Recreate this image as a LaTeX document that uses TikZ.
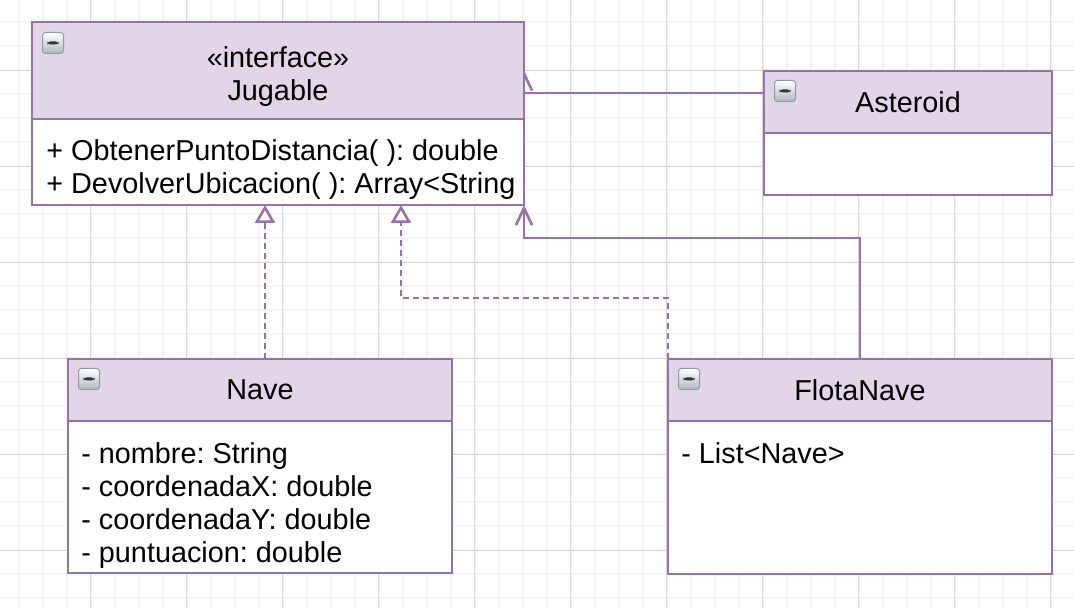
\documentclass[tikz,border=0pt]{standalone}
\usepackage{fontspec}
\setmainfont{Liberation Sans}
\usetikzlibrary{arrows.meta,positioning,backgrounds}
\definecolor{umlfill}{HTML}{E1D5E7}
\definecolor{umlline}{HTML}{9673A6}
\definecolor{gridminor}{HTML}{F4F4F4}
\definecolor{gridmajor}{HTML}{D6D6D6}
\definecolor{foldline}{HTML}{8E9AA4}
\definecolor{foldbot}{HTML}{AEB8C0}
\pgfdeclarelayer{edges}
\pgfsetlayers{background,edges,main}
\frenchspacing

\begin{document}
\begin{tikzpicture}[
 x=0.5pt, y=-0.5pt, font=\fontsize{14.4}{16.5}\selectfont,
 box/.style={draw=umlline, line width=1.4pt, inner sep=0pt, outer sep=0pt},
 head/.style={box, fill=umlfill, align=center}, body/.style={box, fill=white},
 attr/.style={align=left, inner sep=0pt, anchor=north west},
 fold/.style={draw=foldline, line width=0.5pt, rounded corners=1.5pt, top color=white, bottom color=foldbot,
   minimum size=10.5pt, inner sep=0pt, anchor=north west,
   path picture={\fill[black!80] ([xshift=-2.8pt,yshift=-0.75pt]path picture bounding box.center)
     rectangle ([xshift=2.8pt,yshift=0.75pt]path picture bounding box.center);}},
 assoc/.style={draw=umlline, line width=1.3pt, -{Straight Barb[length=8.5pt,width=8pt]}},
 real/.style={assoc, dash pattern=on 3pt off 2pt, -{Triangle[length=9pt,width=10pt,fill=white]}}]
\useasboundingbox (0,0) rectangle (1074,608);
% grid paper
\begin{pgfonlayer}{background}
\fill[white] (0,0) rectangle (1074,608);
\foreach \gx in {18.7,42.7,...,1060} \draw[gridminor, line width=1pt] (\gx,0) -- (\gx,608);
\foreach \gy in {22.3,46.3,...,604} \draw[gridminor, line width=1pt] (0,\gy) -- (1074,\gy);
\foreach \gx in {90.7,186.7,...,1060} \draw[gridmajor, line width=0.5pt] (\gx,0) -- (\gx,608);
\foreach \gy in {70.3,166.3,...,604} \draw[gridmajor, line width=0.5pt] (0,\gy) -- (1074,\gy);
\end{pgfonlayer}
% classes
\node[head, minimum width=246pt, minimum height=48.5pt] (jugH) at (278,70.5) {\rule{0pt}{16pt}«interface»\\Jugable};
\node[body, minimum width=246pt, minimum height=43pt, below=0pt of jugH] (jugB) {};
\node[attr] (jugA) at ([xshift=7pt,yshift=-10.3pt]jugB.north west) {+ ObtenerPuntoDistancia( ): double\\+ DevolverUbicacion( ): Array<String};
\node[fold] (jugF) at ([xshift=5pt,yshift=-5pt]jugH.north west) {};
\node[head, minimum width=144pt, minimum height=31pt] (astH) at (908,102) {Asteroid};
\node[body, minimum width=144pt, minimum height=31pt, below=0pt of astH] (astB) {};
\node[fold] (astF) at ([xshift=5pt,yshift=-4.5pt]astH.north west) {};
\node[head, minimum width=192pt, minimum height=31pt] (naveH) at (260,390) {Nave};
\node[body, minimum width=192pt, minimum height=76pt, below=0pt of naveH] (naveB) {};
\node[attr] (naveA) at ([xshift=6.5pt,yshift=-10.7pt]naveB.north west) {- nombre: String\\- coordenadaX: double\\- coordenadaY: double\\- puntuacion: double};
\node[fold] (naveF) at ([xshift=5pt,yshift=-4.5pt]naveH.north west) {};
\node[head, minimum width=192pt, minimum height=31pt] (flotaH) at (860,390) {FlotaNave};
\node[body, minimum width=192pt, minimum height=76.5pt, below=0pt of flotaH] (flotaB) {};
\node[attr] (flotaA) at ([xshift=6.5pt,yshift=-10.7pt]flotaB.north west) {- List<Nave>};
\node[fold] (flotaF) at ([xshift=5pt,yshift=-4.5pt]flotaH.north west) {};
% relations
\begin{pgfonlayer}{edges}
\draw[assoc] ([yshift=4.5pt]astH.west) -| (jugH.east);
\draw[assoc] (flotaH.north) -- ++(0,-121) -| (jugB.south east);
\draw[real] ([xshift=2.5pt]naveH.north) -- ([xshift=-6.5pt]jugB.south);
\draw[real] (flotaH.north west) -- ++(0,-61) -| ([xshift=61.5pt]jugB.south);
\end{pgfonlayer}
\end{tikzpicture}
\end{document}
